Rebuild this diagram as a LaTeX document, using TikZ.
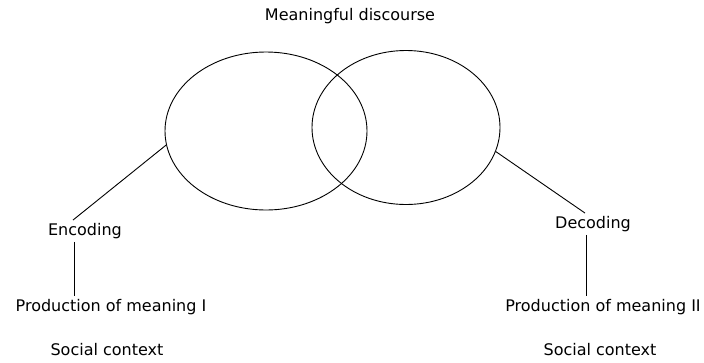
\documentclass[tikz,border=0pt]{standalone}
\usepackage{fontspec}
\setmainfont{DejaVu Sans}
\usetikzlibrary{positioning, shapes.geometric}

\tikzset{
  oval/.style={draw, ellipse, line width=0.9pt, inner sep=0pt},
  lbl/.style={font=\fontsize{16}{18}\selectfont, inner sep=3pt, text height=12pt, text depth=3.5pt},
  link/.style={line width=0.9pt}
}

\begin{document}
\begin{tikzpicture}[x=1pt, y=-1pt]
  \useasboundingbox (0,0) rectangle (704,362);
  % two overlapping ovals
  \node[oval, minimum width=202pt, minimum height=158pt] (leftset) at (266,131) {};
  \node[oval, minimum width=188pt, minimum height=154pt] (rightset) at (406,127.5) {};
  \node[lbl] (disc) at (350,16) {Meaningful discourse};

  % left branch
  \node[lbl] (enc) at (85,231) {Encoding};
  \node[lbl] (prodI) at (111,307) {Production of meaning I};
  \node[lbl] (socI) at (107,351) {Social context};
  \draw[link] (leftset.188) -- ([xshift=-12pt]enc.north);
  \draw[link] ([xshift=-11pt]enc.south) -- ([xshift=-37pt]prodI.north);

  % right branch
  \node[lbl] (dec) at (593,224) {Decoding};
  \node[lbl] (prodII) at (603,307) {Production of meaning II};
  \node[lbl] (socII) at (600,351) {Social context};
  \draw[link] (rightset.-15) -- ([xshift=-8pt]dec.north);
  \draw[link] ([xshift=-7pt]dec.south) -- ([xshift=-17pt]prodII.north);
\end{tikzpicture}
\end{document}
